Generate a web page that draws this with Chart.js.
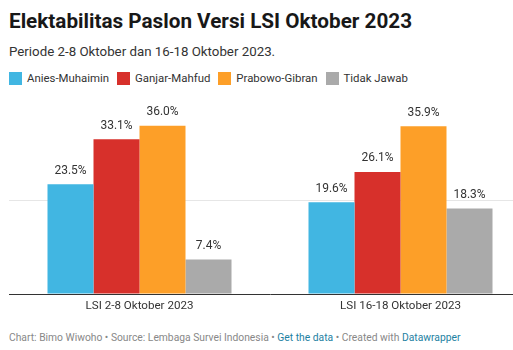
<!DOCTYPE html>
<html lang="id">
<head>
  <meta charset="UTF-8" />
  <title>Elektabilitas Paslon Versi LSI Oktober 2023</title>
  <script src="https://cdn.jsdelivr.net/npm/chart.js"></script>
  <style>
    html, body {
      margin: 0;
      padding: 0;
      background: #fff;
      overflow: hidden;
      width: 513px;
      height: 350px;
      font-family: Roboto, sans-serif;
      color: #333;
    }
    .title {
      position: absolute;
      left: 9px;
      top: 9px;
      margin: 0;
      font-size: 20.7px;
      font-weight: 700;
      color: #181818;
      white-space: nowrap;
    }
    .subtitle {
      position: absolute;
      left: 9px;
      top: 44px;
      margin: 0;
      font-size: 13.3px;
      color: #333;
      white-space: nowrap;
    }
    .legend {
      position: absolute;
      left: 9px;
      top: 71px;
      display: flex;
      font-size: 11.4px;
      color: #333;
      white-space: nowrap;
    }
    .legend-item {
      display: flex;
      align-items: center;
      margin-right: 8px;
    }
    .legend-box {
      width: 13px;
      height: 13px;
      margin-right: 5px;
    }
    .chart-box {
      position: absolute;
      left: 0;
      top: 95px;
      width: 531px;
      height: 225px;
    }
    .footer {
      position: absolute;
      left: 9px;
      top: 331px;
      font-size: 10.3px;
      color: #888;
      white-space: nowrap;
    }
    .footer a {
      color: #1d81a2;
      text-decoration: none;
    }
  </style>
</head>
<body>
  <h1 class="title">Elektabilitas Paslon Versi LSI Oktober 2023</h1>
  <p class="subtitle">Periode 2-8 Oktober dan 16-18 Oktober 2023.</p>
  <div class="legend" id="legend"></div>
  <div class="chart-box"><canvas id="chart" width="531" height="225"></canvas></div>
  <div class="footer">Chart: Bimo Wiwoho • Source: Lembaga Survei Indonesia • <a>Get the data</a> • Created with <a>Datawrapper</a></div>

  <script>
    const categories = ['LSI 2-8 Oktober 2023', 'LSI 16-18 Oktober 2023'];
    const seriesNames = ['Anies-Muhaimin', 'Ganjar-Mahfud', 'Prabowo-Gibran', 'Tidak Jawab'];
    const seriesColors = ['#41b6e2', '#d7302b', '#fd9f28', '#aaaaaa'];
    const aniesValues = [23.5, 19.6];
    const ganjarValues = [33.1, 26.1];
    const prabowoValues = [36.0, 35.9];
    const tidakJawabValues = [7.4, 18.3];
    const yTicks = [0, 20, 40];

    const allValues = [aniesValues, ganjarValues, prabowoValues, tidakJawabValues];

    // legend in html
    const legend = document.getElementById('legend');
    seriesNames.forEach((name, i) => {
      const item = document.createElement('div');
      item.className = 'legend-item';
      item.innerHTML = '<span class="legend-box" style="background:' + seriesColors[i] + '"></span>' + name;
      legend.appendChild(item);
    });

    // value labels on top of bars
    const valueLabels = {
      id: 'valueLabels',
      afterDatasetsDraw(chart) {
        const ctx = chart.ctx;
        ctx.save();
        ctx.font = '12px Roboto, sans-serif';
        ctx.fillStyle = '#333';
        ctx.textAlign = 'center';
        ctx.textBaseline = 'alphabetic';
        chart.data.datasets.forEach((ds, di) => {
          chart.getDatasetMeta(di).data.forEach((bar, i) => {
            ctx.fillText(ds.data[i].toFixed(1) + '%', bar.x, bar.y - 10.5);
          });
        });
        ctx.restore();
      }
    };

    new Chart(document.getElementById('chart'), {
      type: 'bar',
      data: {
        labels: categories,
        datasets: seriesNames.map((name, i) => ({
          label: name,
          data: allValues[i],
          backgroundColor: seriesColors[i],
          borderWidth: 0,
          categoryPercentage: 0.705,
          barPercentage: 1.0
        }))
      },
      options: {
        responsive: false,
        animation: false,
        layout: { padding: { top: 12, left: 0, right: 0, bottom: 0 } },
        plugins: {
          legend: { display: false },
          tooltip: { enabled: false }
        },
        scales: {
          x: {
            grid: { display: false },
            border: { display: true, color: '#333', width: 1 },
            ticks: {
              color: '#333',
              font: { family: 'Roboto', size: 11.6 },
              padding: -3
            },
            afterFit(scale) { scale.height = 26; }
          },
          y: {
            min: 0,
            max: 40,
            afterBuildTicks(scale) { scale.ticks = yTicks.map(v => ({ value: v })); },
            ticks: { display: false },
            border: { display: false },
            grid: {
              color: ctx => ctx.tick.value === 20 ? '#e6e6e6' : 'rgba(0,0,0,0)',
              drawTicks: false
            },
            afterFit(scale) { scale.width = 9; }
          }
        }
      },
      plugins: [valueLabels]
    });
  </script>
</body>
</html>
